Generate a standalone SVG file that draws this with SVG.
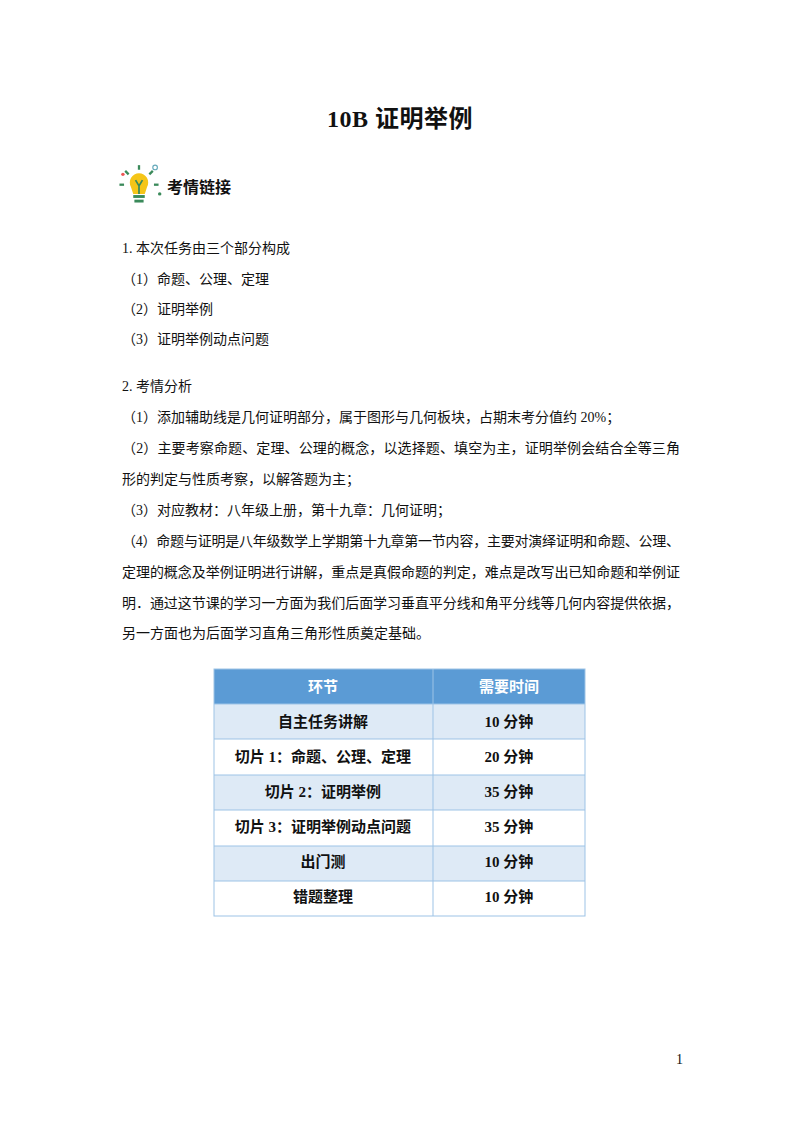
<svg xmlns="http://www.w3.org/2000/svg" width="800" height="1132" viewBox="0 0 800 1132">
<style>
.t{font-family:"Liberation Serif","Noto Sans CJK SC",serif;font-size:14px;fill:#111}
.h{font-family:"Liberation Serif","Noto Sans CJK SC",sans-serif;font-weight:bold;fill:#111}
.c{font-family:"Liberation Serif","Noto Sans CJK SC",sans-serif;font-weight:bold;font-size:15px;fill:#111;text-anchor:middle}
.w{fill:#fff}
</style>
<rect width="800" height="1132" fill="#fff"/>
<text class="h" x="400" y="127" font-size="24" text-anchor="middle" letter-spacing="0.5">10B  证明举例</text>
<g id="icon" transform="translate(139 187) scale(1.15) translate(-139 -187)">
<path d="M132 187 a8 8 0 1 1 14 0 l-2 6 h-10 z" fill="#f5c518"/>
<path d="M136 181 l3 5 l3 -5 M139 186 v7" stroke="#3a8a5a" stroke-width="1.5" fill="none"/>
<rect x="134" y="194" width="10" height="2.5" fill="#3a8a5a"/>
<rect x="135" y="198" width="8" height="2.5" fill="#3a8a5a"/>
<g stroke="#3a8a5a" stroke-width="2"><line x1="139" y1="168" x2="139" y2="172"/><line x1="127" y1="173" x2="130" y2="176"/><line x1="151" y1="173" x2="148" y2="176"/><line x1="122" y1="185" x2="126" y2="185"/><line x1="156" y1="185" x2="152" y2="185"/></g>
<circle cx="125" cy="176" r="1.5" fill="#e55"/><circle cx="153" cy="170" r="2" fill="none" stroke="#6ab"/><circle cx="157" cy="193" r="1.5" fill="#3a8a5a"/>
</g>
<text class="h" x="167" y="193" font-size="16">考情链接</text>
<g id="body">
<text class="t" x="122" y="253">1. 本次任务由三个部分构成</text>
<text class="t" x="122" y="284">（1）命题、公理、定理</text>
<text class="t" x="122" y="314">（2）证明举例</text>
<text class="t" x="122" y="344">（3）证明举例动点问题</text>
<text class="t" x="122" y="391">2. 考情分析</text>
<text class="t" x="122" y="422">（1）添加辅助线是几何证明部分，属于图形与几何板块，占期末考分值约 20%；</text>
<text class="t" x="122" y="453" textLength="558" lengthAdjust="spacing">（2）主要考察命题、定理、公理的概念，以选择题、填空为主，证明举例会结合全等三角</text>
<text class="t" x="122" y="484">形的判定与性质考察，以解答题为主；</text>
<text class="t" x="122" y="515">（3）对应教材：八年级上册，第十九章：几何证明；</text>
<text class="t" x="122" y="546" textLength="558" lengthAdjust="spacing">（4）命题与证明是八年级数学上学期第十九章第一节内容，主要对演绎证明和命题、公理、</text>
<text class="t" x="122" y="577" textLength="558" lengthAdjust="spacing">定理的概念及举例证明进行讲解，重点是真假命题的判定，难点是改写出已知命题和举例证</text>
<text class="t" x="122" y="608" textLength="558" lengthAdjust="spacing">明．通过这节课的学习一方面为我们后面学习垂直平分线和角平分线等几何内容提供依据，</text>
<text class="t" x="122" y="638">另一方面也为后面学习直角三角形性质奠定基础。</text>
</g>
<g id="table">
<rect x="214" y="669" width="371" height="35" fill="#5b9bd5"/>
<rect x="214" y="704" width="371" height="35" fill="#deeaf6"/>
<rect x="214" y="775" width="371" height="35" fill="#deeaf6"/>
<rect x="214" y="846" width="371" height="35" fill="#deeaf6"/>
<g stroke="#9dc3e6" stroke-width="1" fill="none">
<rect x="214" y="669" width="371" height="247"/>
<line x1="433" y1="669" x2="433" y2="916"/>
<line x1="214" y1="704" x2="585" y2="704"/><line x1="214" y1="739" x2="585" y2="739"/>
<line x1="214" y1="775" x2="585" y2="775"/><line x1="214" y1="810" x2="585" y2="810"/>
<line x1="214" y1="846" x2="585" y2="846"/><line x1="214" y1="881" x2="585" y2="881"/>
</g>
<text class="c w" x="323" y="692">环节</text><text class="c w" x="509" y="692">需要时间</text>
<text class="c" x="323" y="727">自主任务讲解</text><text class="c" x="509" y="727">10 分钟</text>
<text class="c" x="323" y="762">切片 1：命题、公理、定理</text><text class="c" x="509" y="762">20 分钟</text>
<text class="c" x="323" y="797">切片 2：证明举例</text><text class="c" x="509" y="797">35 分钟</text>
<text class="c" x="323" y="832">切片 3：证明举例动点问题</text><text class="c" x="509" y="832">35 分钟</text>
<text class="c" x="323" y="867">出门测</text><text class="c" x="509" y="867">10 分钟</text>
<text class="c" x="323" y="902">错题整理</text><text class="c" x="509" y="902">10 分钟</text>
</g>
<text class="t" x="676" y="1064" font-size="12">1</text>
</svg>
